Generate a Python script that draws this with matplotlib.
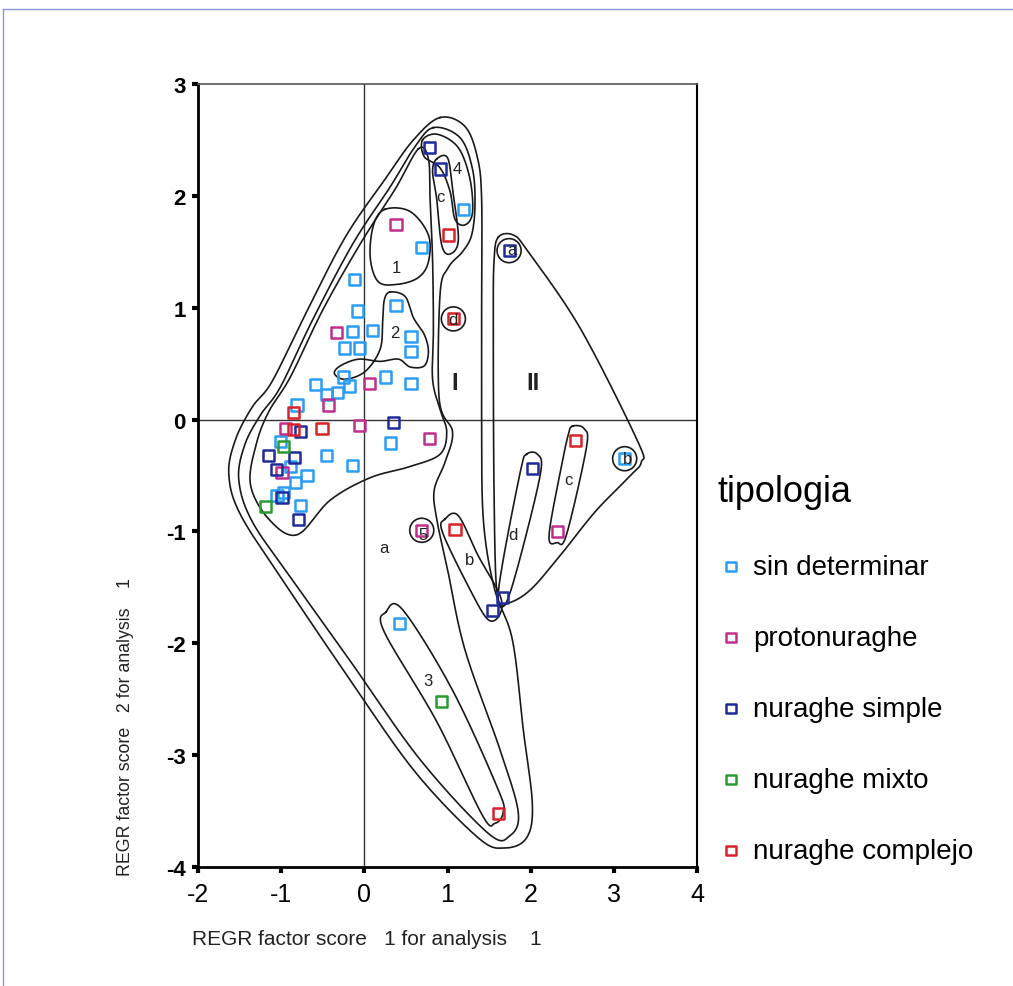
import matplotlib
matplotlib.use("Agg")
import matplotlib.pyplot as plt
import numpy as np
from matplotlib.lines import Line2D

plt.rcParams['font.family'] = ['Liberation Sans', 'DejaVu Sans']
plt.rcParams['axes.unicode_minus'] = False

# puntos por tipologia (REGR factor score 1 / 2)
sin_det_x = [1.19, 0.69, -0.12, 0.38, -0.08, -0.14, 0.10, -0.24, -0.06, 0.56, 0.56,
             0.25, 0.56, -0.25, -0.59, -0.18, -0.46, -0.32, -0.81, 0.31, -0.14,
             -0.46, -0.89, -0.69, -0.83, -0.97, -1.05, -0.77, -1.01, 0.42, 3.13]
sin_det_y = [1.88, 1.54, 1.25, 1.02, 0.97, 0.79, 0.80, 0.64, 0.64, 0.74, 0.61,
             0.38, 0.32, 0.38, 0.31, 0.30, 0.22, 0.24, 0.13, -0.21, -0.41,
             -0.32, -0.42, -0.50, -0.56, -0.65, -0.68, -0.77, -0.20, -1.82, -0.35]

proto_x = [0.38, -0.34, 0.06, -0.43, -0.95, -0.06, 0.78, -0.99, 0.69, 2.32]
proto_y = [1.74, 0.78, 0.32, 0.13, -0.08, -0.05, -0.17, -0.47, -0.99, -1.00]

simple_x = [0.78, 0.91, 1.74, 0.35, -0.77, -1.15, -0.84, -1.06, -0.99, -0.79, 2.02, 1.66, 1.54]
simple_y = [2.43, 2.24, 1.51, -0.03, -0.11, -0.32, -0.34, -0.45, -0.70, -0.89, -0.44, -1.59, -1.71]

mixto_x = [-0.97, -1.19, 0.93]
mixto_y = [-0.24, -0.78, -2.52]

complejo_x = [1.01, 1.07, -0.85, -0.85, -0.51, 1.09, 2.54, 1.61]
complejo_y = [1.65, 0.90, 0.06, -0.09, -0.08, -0.98, -0.19, -3.52]

series = [
    ("sin determinar", sin_det_x, sin_det_y, "#2a9df4"),
    ("protonuraghe", proto_x, proto_y, "#c0308a"),
    ("nuraghe simple", simple_x, simple_y, "#1f2b9a"),
    ("nuraghe mixto", mixto_x, mixto_y, "#2a9a33"),
    ("nuraghe complejo", complejo_x, complejo_y, "#d8232a"),
]

# contornos dibujados a mano (puntos de control en coordenadas de datos)
grupo_I_ext = [(0.91, 2.70), (1.21, 2.62), (1.36, 2.34), (1.41, 1.97), (1.41, 1.07),
               (1.41, 0.00), (1.43, -0.89), (1.56, -1.50), (1.78, -1.97), (1.91, -2.77),
               (2.02, -3.44), (1.95, -3.74), (1.69, -3.83), (1.37, -3.74), (0.61, -3.15),
               (-0.17, -2.33), (-0.97, -1.45), (-1.49, -0.85), (-1.63, -0.49), (-1.55, -0.18),
               (-1.35, 0.11), (-1.11, 0.34), (-0.71, 0.94), (-0.23, 1.63), (0.25, 2.15),
               (0.59, 2.50)]
grupo_a = [(0.83, 2.61), (1.15, 2.52), (1.30, 2.24), (1.33, 1.92), (1.29, 1.65),
           (1.18, 1.50), (1.01, 1.36), (0.91, 1.12), (0.90, 0.18), (1.06, -0.11),
           (0.97, -0.38), (0.84, -0.63), (0.87, -0.89), (1.00, -1.34), (1.21, -2.06),
           (1.63, -2.95), (1.85, -3.51), (1.75, -3.72), (1.49, -3.70), (0.67, -3.04),
           (-0.14, -2.19), (-0.87, -1.43), (-1.35, -0.91), (-1.51, -0.54), (-1.44, -0.23),
           (-1.25, 0.04), (-1.01, 0.29), (-0.63, 0.88), (-0.14, 1.57), (0.31, 2.08),
           (0.60, 2.43)]
grupo_nucleo = [(0.65, 2.42), (0.77, 2.33), (0.79, 1.97), (0.82, 1.43), (0.83, 0.81),
                (0.82, 0.36), (0.91, 0.09), (0.99, -0.11), (0.91, -0.31), (0.55, -0.42),
                (0.07, -0.52), (-0.41, -0.72), (-0.81, -1.03), (-1.15, -0.89), (-1.37, -0.58),
                (-1.30, -0.22), (-1.15, 0.07), (-0.89, 0.38), (-0.50, 0.98), (-0.05, 1.57),
                (0.37, 2.06)]
grupo_4 = [(0.70, 2.50), (0.88, 2.55), (1.13, 2.43), (1.27, 2.15), (1.30, 1.85),
           (1.21, 1.74), (1.09, 1.79), (1.03, 2.04), (0.91, 2.25), (0.72, 2.35)]
grupo_c = [(0.87, 2.33), (1.00, 2.34), (1.06, 2.06), (1.13, 1.61), (1.03, 1.48),
           (0.93, 1.56), (0.87, 1.97), (0.82, 2.22)]
grupo_1 = [(0.25, 1.88), (0.55, 1.86), (0.77, 1.65), (0.77, 1.41), (0.65, 1.27),
           (0.41, 1.21), (0.17, 1.23), (0.07, 1.45), (0.11, 1.74)]
grupo_2 = [(0.31, 1.14), (0.49, 1.10), (0.59, 0.91), (0.72, 0.76), (0.77, 0.61),
           (0.72, 0.48), (0.55, 0.47), (0.41, 0.54), (0.19, 0.52), (-0.07, 0.54),
           (-0.29, 0.48), (-0.36, 0.41), (-0.23, 0.36), (0.01, 0.43), (0.19, 0.63),
           (0.22, 0.88), (0.24, 1.07)]
grupo_b = [(0.97, -0.89), (1.13, -0.86), (1.37, -1.22), (1.63, -1.57), (1.63, -1.74),
           (1.49, -1.79), (1.27, -1.52), (0.94, -1.01)]
grupo_3 = [(0.26, -1.72), (0.46, -1.70), (1.06, -2.42), (1.61, -3.31), (1.67, -3.51),
           (1.57, -3.61), (1.42, -3.54), (0.87, -2.70), (0.24, -1.90)]
grupo_II = [(1.61, 1.63), (1.79, 1.65), (1.97, 1.50), (2.60, 0.81), (3.29, -0.20),
            (3.33, -0.38), (3.20, -0.50), (2.78, -0.82), (2.36, -1.21), (2.00, -1.52),
            (1.73, -1.64), (1.60, -1.59), (1.56, -0.72), (1.55, 0.89), (1.56, 1.43)]
grupo_II_d = [(1.95, -0.31), (2.08, -0.31), (2.12, -0.47), (1.90, -1.16), (1.71, -1.63),
              (1.61, -1.61), (1.67, -1.25), (1.88, -0.45)]
grupo_II_c = [(2.50, -0.06), (2.64, -0.08), (2.67, -0.25), (2.43, -1.03), (2.32, -1.10),
              (2.22, -1.04), (2.36, -0.45), (2.45, -0.14)]

contornos = [grupo_I_ext, grupo_a, grupo_nucleo, grupo_4, grupo_c, grupo_1, grupo_2,
             grupo_b, grupo_3, grupo_II, grupo_II_d, grupo_II_c]

# puntos aislados rodeados con un circulo
circulos_x = [1.07, 1.74, 3.13, 0.69]
circulos_y = [0.90, 1.51, -0.35, -0.99]

etiquetas = [("1", 0.38, 1.36), ("2", 0.37, 0.78), ("4", 1.12, 2.24), ("c", 0.91, 1.99),
             ("a", 1.77, 1.52), ("d", 1.07, 0.89), ("c", 2.45, -0.54), ("b", 3.16, -0.35),
             ("d", 1.79, -1.03), ("b", 1.27, -1.25), ("a", 0.23, -1.14), ("5", 0.70, -1.03),
             ("3", 0.77, -2.33)]
etiquetas_grupo = [("I", 1.09, 0.33), ("II", 2.03, 0.33)]


def smooth_closed(pts, n=24):
    """curva cerrada Catmull-Rom por los puntos de control"""
    P = np.asarray(pts, dtype=float)
    m = len(P)
    t = np.linspace(0, 1, n, endpoint=False)[:, None]
    out = []
    for i in range(m):
        p0, p1, p2, p3 = P[(i - 1) % m], P[i], P[(i + 1) % m], P[(i + 2) % m]
        seg = 0.5 * (2 * p1 + (-p0 + p2) * t + (2 * p0 - 5 * p1 + 4 * p2 - p3) * t ** 2
                     + (-p0 + 3 * p1 - 3 * p2 + p3) * t ** 3)
        out.append(seg)
    out.append(P[:1])
    return np.vstack(out)


fig = plt.figure(figsize=(10.13, 9.87), dpi=100)
ax = fig.add_axes([0.1955, 0.1206, 0.4926, 0.7933])

ax.set_xlim(-2, 4)
ax.set_ylim(-4, 3)
ax.axhline(0, color="#333333", lw=1.0, zorder=1)
ax.axvline(0, color="#333333", lw=1.0, zorder=1)

for c in contornos:
    xy = smooth_closed(c)
    ax.plot(xy[:, 0], xy[:, 1], color="#1a1a1a", lw=1.2, zorder=2)

ax.scatter(circulos_x, circulos_y, s=300, facecolors="none", edgecolors="#1a1a1a",
           linewidths=1.2, zorder=2)

for txt, x, y in etiquetas:
    ax.text(x, y, txt, fontsize=12, ha="center", va="center", color="#222222", zorder=4)
for txt, x, y in etiquetas_grupo:
    ax.text(x, y, txt, fontsize=17, fontweight="bold", ha="center", va="center",
            color="#222222", zorder=4)

for name, xs, ys, col in series:
    ax.scatter(xs, ys, marker="s", s=64, facecolors="none", edgecolors=col,
               linewidths=1.8, label=name, zorder=3)

ax.set_xticks(np.arange(-2, 5, 1))
ax.set_yticks(np.arange(-4, 4, 1))
ax.tick_params(axis="x", length=4, width=3, labelsize=18, pad=7)
ax.tick_params(axis="y", length=4, width=3, labelsize=16, pad=5)
for lab in ax.get_yticklabels():
    lab.set_fontweight("bold")

for side in ["left", "bottom"]:
    ax.spines[side].set_linewidth(2.0)
ax.spines["right"].set_linewidth(1.5)
ax.spines["top"].set_linewidth(1.2)
ax.spines["top"].set_color("#555555")

fig.text(192 / 1013, 1 - 940 / 987, "REGR factor score   1 for analysis    1",
         fontsize=15, ha="left", va="center", color="#222222")
fig.text(125 / 1013, 1 - 876 / 987, "REGR factor score   2 for analysis    1",
         fontsize=12.8, rotation=90, ha="center", va="bottom", color="#222222")

leg = fig.legend(loc="upper left", bbox_to_anchor=(692 / 1013, 1 - 450 / 987),
                 title="tipologia", title_fontsize=26, fontsize=20, frameon=False,
                 labelspacing=1.62, handlelength=1.0, handletextpad=0.3,
                 alignment="left", scatterpoints=1, markerscale=0.85)

# marco de la pagina
fig.add_artist(Line2D([3 / 1013, 1], [1 - 10 / 987, 1 - 10 / 987], color="#8a97d6", lw=1))
fig.add_artist(Line2D([3 / 1013, 3 / 1013], [0, 1 - 10 / 987], color="#8a97d6", lw=1))

fig.savefig("out.png", dpi=100)
